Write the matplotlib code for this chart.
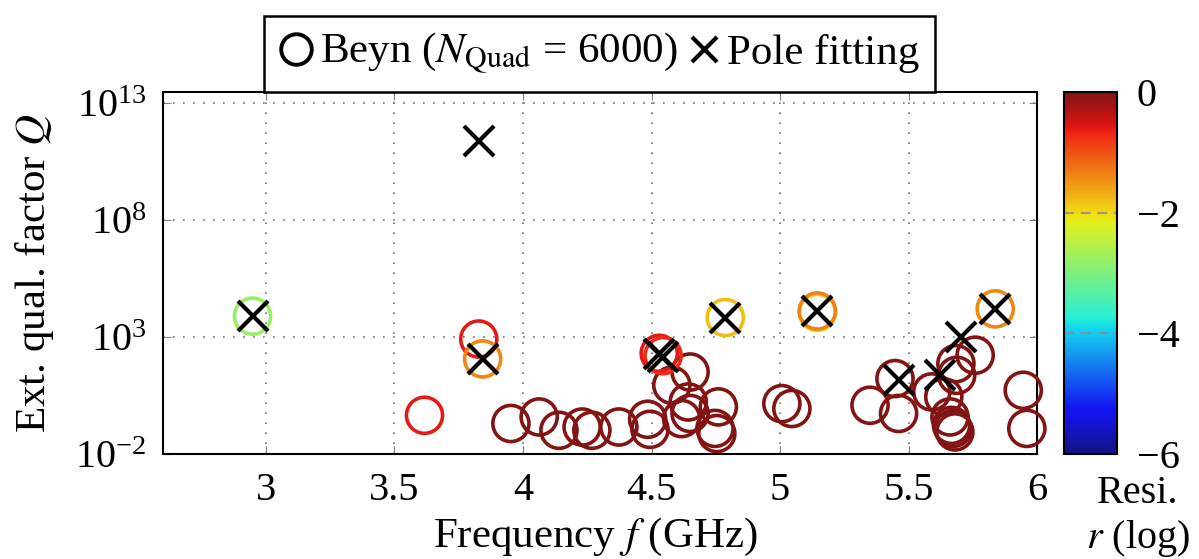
import numpy as np
import matplotlib
matplotlib.use("Agg")
import matplotlib.pyplot as plt
from matplotlib.lines import Line2D
import matplotlib.ticker as ticker

plt.rcParams['font.family'] = ['Liberation Serif', 'DejaVu Serif']
plt.rcParams['mathtext.fontset'] = 'stix'

# Beyn eigenvalues: frequency (GHz), log10 Q, log10 residual
beyn_f = [3.953, 4.063, 4.140, 4.230, 4.268, 4.373, 4.485, 4.494,
          4.650, 4.579, 4.643, 4.760, 4.617, 4.650, 4.747, 4.754,
          5.007, 5.046, 5.350, 5.447, 5.461, 5.590, 5.637, 5.684,
          5.687, 5.759, 5.661, 5.667, 5.673, 5.680, 5.946, 5.960,
          3.617, 3.828, 4.530, 4.545, 3.843, 5.145, 5.145, 5.837,
          4.787, 2.948]
beyn_logq = [-0.70, -0.42, -0.99, -0.85, -0.99, -0.85, -0.52, -0.95,
             1.50, 0.94, 0.22, 0.01, -0.49, -0.27, -0.91, -1.13,
             0.15, -0.06, 0.08, 1.22, -0.27, 0.65, 0.44, 1.86,
             1.36, 2.22, -0.42, -0.78, -0.91, -1.06, 0.72, -0.91,
             -0.35, 2.91, 2.30, 2.20, 2.06, 4.05, 4.11, 4.20,
             3.83, 3.89]
beyn_res = [0, 0, 0, 0, 0, 0, 0, 0,
            0, 0, 0, 0, 0, 0, 0, 0,
            0, 0, 0, 0, 0, 0, 0, 0,
            0, 0, 0, 0, 0, 0, 0, 0,
            -0.6, -0.6, -0.6, -0.7, -1.4, -1.9, -1.35, -1.4,
            -1.8, -2.8]

# pole fitting
pole_f = [2.948, 3.830, 3.843, 4.530, 4.545, 4.787, 5.145, 5.464, 5.621, 5.703, 5.837]
pole_logq = [3.89, 11.38, 2.06, 2.25, 2.15, 3.83, 4.11, 1.15, 1.36, 3.00, 4.20]

# jet, slightly muted like the pgfplots output
cmap = matplotlib.colors.ListedColormap(
    plt.get_cmap('jet')(np.linspace(0, 1, 256))[:, :3] * 0.86 + 0.08)
norm = matplotlib.colors.Normalize(vmin=-6, vmax=0)

fig = plt.figure(figsize=(11.99, 5.59), dpi=100)
ax = fig.add_axes([0.136, 0.188, 0.729, 0.647])

ax.scatter(beyn_f, 10.0 ** np.array(beyn_logq), s=26**2, marker='o',
           facecolors='none', edgecolors=cmap(norm(np.array(beyn_res))),
           linewidths=2.6, clip_on=False, zorder=3)
ax.plot(pole_f, 10.0 ** np.array(pole_logq), ls='none', marker='x', ms=21,
        mew=3.0, color='k', clip_on=False, zorder=4)

ax.set_yscale('log')
ax.set_xlim(2.6, 6.0)
ax.set_ylim(1e-2, 10 ** 13.46)
ax.set_xticks([3, 3.5, 4, 4.5, 5, 5.5, 6])
ax.set_xticklabels(['3', '3.5', '4', '4.5', '5', '5.5', '6'])
ax.yaxis.set_major_locator(ticker.FixedLocator([1e-2, 1e3, 1e8, 1e13]))
ax.yaxis.set_minor_locator(ticker.NullLocator())
ax.yaxis.set_major_formatter(ticker.LogFormatterSciNotation())
ax.grid(True, ls=(0, (1, 5)), color='0.45', lw=1.2)
ax.tick_params(direction='in', top=True, right=True, length=6, color='0.5',
               labelsize=29)
ax.tick_params(axis='x', pad=13)
ax.tick_params(axis='y', pad=12)
for sp in ax.spines.values():
    sp.set_linewidth(1.5)

ax.set_xlabel('Frequency $f$ (GHz)', fontsize=31)
ax.set_ylabel('Ext. qual. factor $Q$', fontsize=31)
ax.xaxis.set_label_coords(0.495, -0.172)
ax.yaxis.set_label_coords(-0.122, 0.5)

# colorbar
cax = fig.add_axes([0.887, 0.188, 0.045, 0.647])
sm = matplotlib.cm.ScalarMappable(norm=norm, cmap=cmap)
cb = fig.colorbar(sm, cax=cax, ticks=[0, -2, -4, -6])
cb.ax.tick_params(length=0, labelsize=29, pad=14)
cb.outline.set_linewidth(1.5)
for v in [-2, -4]:
    cax.axhline(v, color='0.55', ls=(0, (6, 4)), lw=1.2)
fig.text(0.949, 0.118, 'Resi.', ha='center', va='center', fontsize=29)
fig.text(0.949, 0.036, '$r$ (log)', ha='center', va='center', fontsize=29)

handles = [Line2D([], [], ls='none', marker='o', mfc='none', mec='k', ms=22, mew=2.8),
           Line2D([], [], ls='none', marker='x', color='k', ms=18, mew=3.0)]
leg = fig.legend(handles, [r'Beyn ($N_\mathrm{Quad}$ = 6000)', 'Pole fitting'],
                 loc='lower center', bbox_to_anchor=(0.5, 0.835), ncol=2,
                 frameon=True, fancybox=False, edgecolor='k', framealpha=1,
                 fontsize=31, borderaxespad=0, handlelength=0.8,
                 handletextpad=0.15, columnspacing=0.2, borderpad=0.35)
leg.get_frame().set_linewidth(1.8)

fig.savefig('out.png', dpi=100)
